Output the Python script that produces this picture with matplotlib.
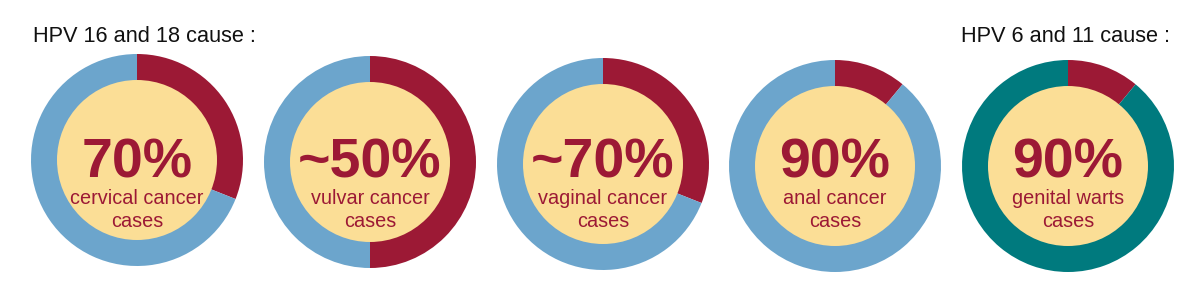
import matplotlib
matplotlib.use("Agg")
import matplotlib.pyplot as plt
from matplotlib.patches import Circle

# ── Datos ────────────────────────────────────────────────────────────────
big_labels = ["70%", "~50%", "~70%", "90%", "90%"]
sub_line1 = ["cervical cancer", "vulvar cancer", "vaginal cancer", "anal cancer", "genital warts"]
sub_line2 = ["cases", "cases", "cases", "cases", "cases"]
# parte roja del anillo (tal como se ve en la imagen) y el resto
red_share = [31, 50, 31, 11, 11]
rest_share = [69, 50, 69, 89, 89]
rest_colors = ["#6CA5CC", "#6CA5CC", "#6CA5CC", "#6CA5CC", "#007A7E"]
titles = ["HPV 16 and 18 cause :", "HPV 6 and 11 cause :"]

RED = "#9C1935"
YELLOW = "#FBDE96"
W, H = 1200, 287

# centros en coordenadas de imagen (y hacia abajo)
cx = [137, 370, 603, 835, 1068]
cy = [160, 162, 164, 166, 166]
R_OUT, R_IN = 106, 80

fig = plt.figure(figsize=(12, 2.87), dpi=100)
ax = fig.add_axes([0, 0, 1, 1])

for i in range(len(big_labels)):
    x, y = cx[i], H - cy[i]
    ax.pie([red_share[i], rest_share[i]], colors=[RED, rest_colors[i]],
           startangle=90, counterclock=False, radius=R_OUT, center=(x, y),
           wedgeprops=dict(width=R_OUT - R_IN + 2, linewidth=0))
    ax.add_patch(Circle((x, y), R_IN, facecolor=YELLOW, edgecolor="none", zorder=3))
    ax.text(x, H - 177, big_labels[i], ha="center", va="baseline", color=RED,
            fontsize=40, fontweight="bold", family="Liberation Sans", zorder=4)
    ax.text(x, H - 204, sub_line1[i], ha="center", va="baseline", color=RED,
            fontsize=14.3, family="Liberation Sans", zorder=4)
    ax.text(x, H - 227, sub_line2[i], ha="center", va="baseline", color=RED,
            fontsize=14.3, family="Liberation Sans", zorder=4)

ax.text(33, H - 42, titles[0], ha="left", va="baseline", color="#111111",
        fontsize=15.7, family="Liberation Sans")
ax.text(1170, H - 42, titles[1], ha="right", va="baseline", color="#111111",
        fontsize=15.7, family="Liberation Sans")

ax.set_xlim(0, W)
ax.set_ylim(0, H)
ax.set_aspect("equal")
ax.axis("off")

fig.savefig("out.png", dpi=100, facecolor="white")
